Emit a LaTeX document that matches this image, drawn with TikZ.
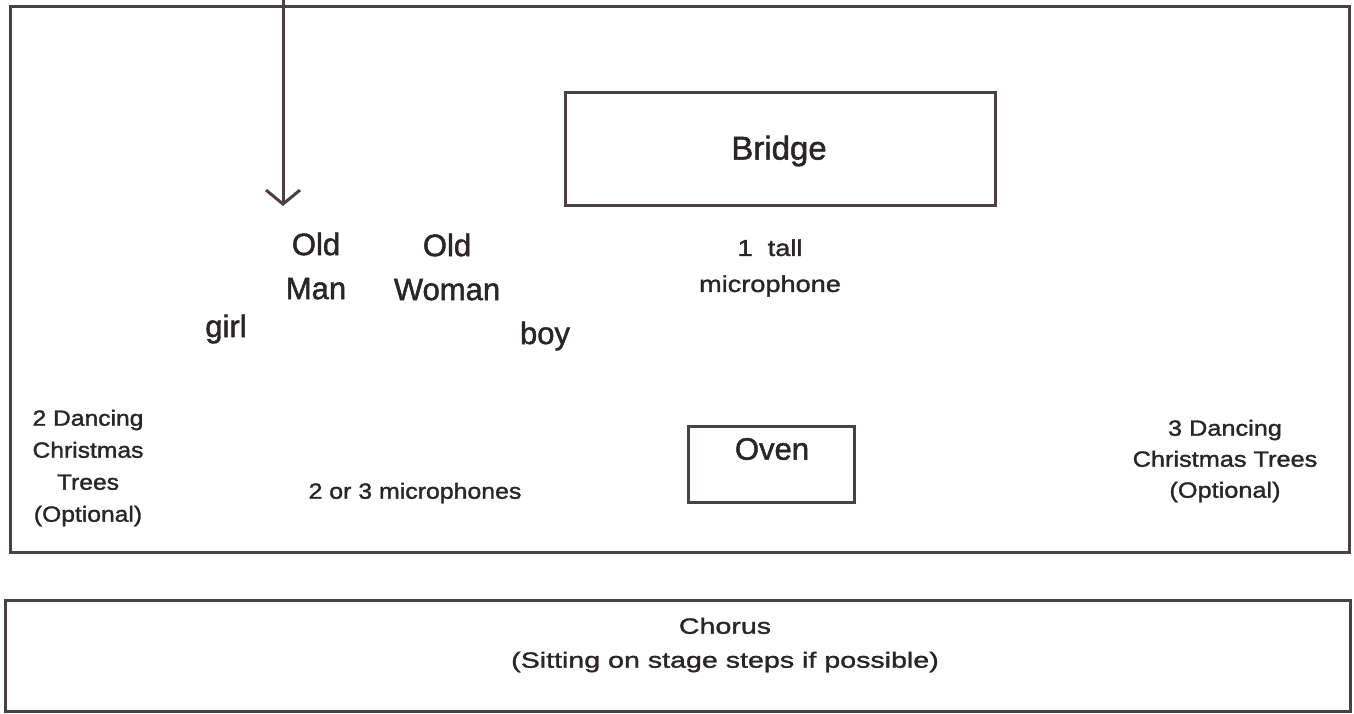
\documentclass[tikz,border=0pt]{standalone}
\usepackage{fontspec}
\setmainfont{Liberation Sans}
\usetikzlibrary{arrows.meta}
\definecolor{ink}{HTML}{4A4242}
\definecolor{txt}{HTML}{2A2626}
\tikzset{
  box/.style={draw=ink, line width=3pt, fill=none},
  big/.style={text=txt, font=\fontsize{31}{44}\selectfont\addfontfeatures{FakeBold=1.5}, align=center, inner sep=0pt},
  small/.style={text=txt, align=center, inner sep=0pt},
}
\newcommand{\smallfnt}[3]{\fontsize{#1}{#2}\selectfont\addfontfeatures{FakeStretch=#3,FakeBold=1.5}}
\begin{document}
\begin{tikzpicture}[x=1pt, y=-1pt]
\useasboundingbox[fill=white] (0,0) rectangle (1354,713);
% stage
\draw[box] (10,6) rectangle (1349,552);
\node[box, minimum width=430pt, minimum height=113pt, inner sep=0pt] (bridge) at (780,149) {};
\node[big, font=\fontsize{33}{40}\selectfont\addfontfeatures{FakeBold=1.5}] (bridgelbl) at (779,151) {Bridge};
\node[box, minimum width=166pt, minimum height=76pt, inner sep=0pt] (oven) at (771,464) {};
\node[big] (ovenlbl) at (772,449) {Oven};
% arrow
\coordinate (arrtop) at (283,0);
\coordinate (arrend) at (283,206);
\draw[draw=ink, line width=3pt, -{Straight Barb[length=14pt,width=34pt]}] (arrtop) -- (arrend);
% people
\node[big] (oldman) at (316,266) {Old\\Man};
\node[big] (oldwoman) at (447,267) {Old\\Woman};
\node[big] (girl) at (226,329) {girl};
\node[big] (boy) at (545,336) {boy};
\node[small, font=\smallfnt{23}{36}{1.18}] (mic) at (770,268) {1 \ tall\\microphone};
\node[small, font=\smallfnt{22}{32}{1.12}] (trees2) at (88,468) {2 Dancing\\Christmas\\Trees\\(Optional)};
\node[small, font=\smallfnt{22}{31}{1.13}] (mics) at (415,493) {2 or 3 microphones};
\node[small, font=\smallfnt{22}{31}{1.15}] (trees3) at (1225,461) {3 Dancing\\Christmas Trees\\(Optional)};
% chorus
\node[box, minimum width=1345pt, minimum height=111pt, inner sep=0pt] (chorusbox) at (677.5,655.5) {};
\node[small, font=\smallfnt{22}{34}{1.3}] (chorus) at (725,645) {Chorus\\(Sitting on stage steps if possible)};
\end{tikzpicture}
\end{document}
